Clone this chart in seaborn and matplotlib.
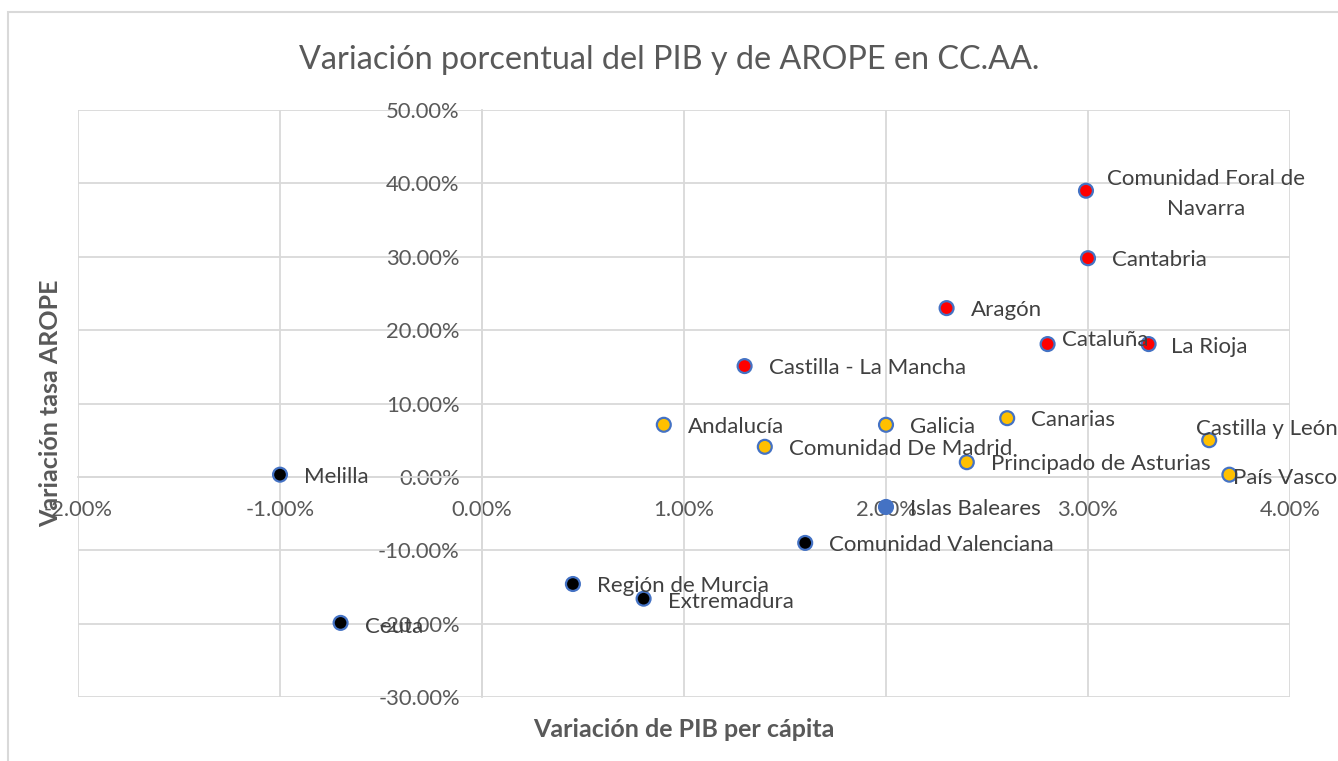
import matplotlib.pyplot as plt
import matplotlib.patches as mpatches
import seaborn as sns
import pandas as pd

regions = ['Melilla', 'Ceuta', 'Región de Murcia', 'Extremadura', 'Comunidad Valenciana',
           'Islas Baleares', 'Andalucía', 'Comunidad De Madrid', 'Galicia', 'Canarias',
           'Principado de Asturias', 'Castilla y León', 'País Vasco', 'Castilla - La Mancha',
           'Aragón', 'Cataluña', 'La Rioja', 'Cantabria', 'Comunidad Foral de\nNavarra']
pib = [-1.00, -0.70, 0.45, 0.80, 1.60, 2.00, 0.90, 1.40, 2.00, 2.60,
       2.40, 3.60, 3.70, 1.30, 2.30, 2.80, 3.30, 3.00, 2.99]
arope = [0.3, -19.9, -14.6, -16.6, -9.0, -4.1, 7.1, 4.1, 7.1, 8.0,
         2.0, 5.0, 0.3, 15.1, 23.0, 18.1, 18.1, 29.8, 39.0]
grupo = ['bajo', 'bajo', 'bajo', 'bajo', 'bajo', 'baleares', 'medio', 'medio', 'medio', 'medio',
         'medio', 'medio', 'medio', 'alto', 'alto', 'alto', 'alto', 'alto', 'alto']

x_ticks = [-2, -1, 0, 1, 2, 3, 4]
y_ticks = [-30, -20, -10, 0, 10, 20, 30, 40, 50]

colores = {'alto': '#FF0000', 'medio': '#FFC000', 'bajo': '#000000', 'baleares': '#4472C4'}

# label offsets in pixels (default: right of the point)
offsets = {
    'Castilla y León': (-13, 11),
    'Cataluña': (14, 4),
    'La Rioja': (22, -3),
    'País Vasco': (4, -3),
    'Extremadura': (24, -3),
    'Ceuta': (24, -4),
}

df = pd.DataFrame({'region': regions, 'pib': pib, 'arope': arope, 'grupo': grupo})

sns.set_style('white')
plt.rcParams['font.family'] = ['Lato', 'DejaVu Sans']

fig = plt.figure(figsize=(13.38, 7.61), dpi=100)
ax = fig.add_axes([78 / 1338, 1 - 697 / 761, 1212 / 1338, 587 / 761])

fig.patches.append(mpatches.Rectangle((8 / 1338, -0.05), 1.1, 1.05 - 12 / 761,
                                      transform=fig.transFigure, fill=False,
                                      edgecolor='#D9D9D9', linewidth=1.5))

sns.scatterplot(data=df, x='pib', y='arope', hue='grupo', palette=colores, s=100,
                edgecolor='#4472C4', linewidth=1.6, legend=False, ax=ax, zorder=3)

ax.set_xlim(-2, 4)
ax.set_ylim(-30, 50)
ax.set_xticks(x_ticks)
ax.set_yticks(y_ticks)
ax.set_xticklabels([f'{v:.2f}%' for v in x_ticks])
ax.set_yticklabels([f'{v:.2f}%' for v in y_ticks])
ax.grid(True, color='#D9D9D9', linewidth=1.3)
ax.set_axisbelow(True)

for side in ['top', 'right']:
    ax.spines[side].set_visible(False)
ax.spines['left'].set_position(('data', 0))
ax.spines['bottom'].set_position(('data', 0))
for side in ['left', 'bottom']:
    ax.spines[side].set_color('#D9D9D9')
    ax.spines[side].set_linewidth(1.3)
ax.tick_params(axis='y', length=0, pad=16, labelsize=15.8, labelcolor='#595959')
ax.tick_params(axis='x', length=0, pad=17, labelsize=15.8, labelcolor='#595959')

for _, r in df.iterrows():
    if r['region'].startswith('Comunidad Foral'):
        ax.annotate(r['region'], (r['pib'], r['arope']), xytext=(120, -3),
                    textcoords='offset pixels', ha='center', va='center',
                    multialignment='center', fontsize=16, color='#404040',
                    linespacing=1.6)
        continue
    dx, dy = offsets.get(r['region'], (24, -2))
    ax.annotate(r['region'], (r['pib'], r['arope']), xytext=(dx, dy),
                textcoords='offset pixels', ha='left', va='center',
                fontsize=16, color='#404040')

ax.set_xlabel('Variación de PIB per cápita', fontsize=18, fontweight='bold', color='#595959')
ax.set_ylabel('Variación tasa AROPE', fontsize=18, fontweight='bold', color='#595959')
ax.xaxis.set_label_coords(0.5, -0.036)
ax.yaxis.set_label_coords(-0.013, 0.5)

fig.text(0.5, 1 - 60 / 761, 'Variación porcentual del PIB y de AROPE en CC.AA.',
         ha='center', va='center', fontsize=23.3, color='#595959')

fig.savefig('out.png', dpi=100)
